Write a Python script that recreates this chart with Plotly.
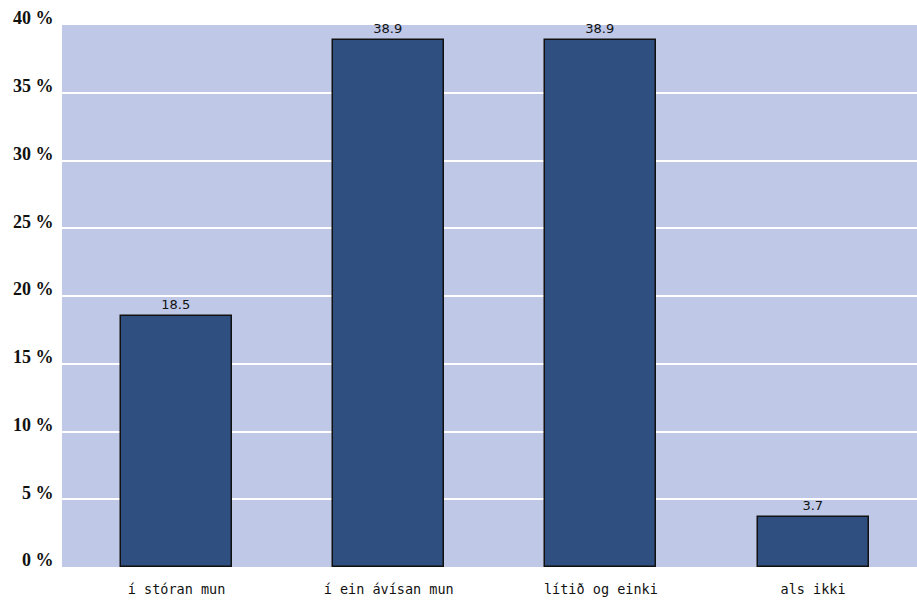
import plotly.graph_objects as go

categories = ["í stóran mun", "í ein ávísan mun", "lítið og einki", "als ikki"]
values = [18.5, 38.9, 38.9, 3.7]
value_labels = ["18.5", "38.9", "38.9", "3.7"]
y_ticks = [0, 5, 10, 15, 20, 25, 30, 35, 40]
y_tick_labels = ["0 %", "5 %", "10 %", "15 %", "20 %", "25 %", "30 %", "35 %", "40 %"]

xpos = list(range(len(categories)))

fig = go.Figure()
fig.add_trace(go.Bar(
    x=xpos, y=values, width=0.523,
    marker=dict(color="#2F4F80", line=dict(color="#111111", width=1.5)),
    text=value_labels, textposition="outside",
    textfont=dict(family="DejaVu Sans", size=13, color="#111111"),
    cliponaxis=False,
))

fig.update_layout(
    width=917, height=610,
    margin=dict(l=62, r=0, t=25, b=43),
    paper_bgcolor="white",
    plot_bgcolor="#BFC8E6",
    showlegend=False,
    bargap=0,
    xaxis=dict(
        range=[-0.54, 3.49],
        tickvals=xpos, ticktext=categories,
        showgrid=False, zeroline=False,
        ticks="outside", ticklen=10, tickcolor="rgba(0,0,0,0)",
        tickfont=dict(family="DejaVu Sans Mono", size=13.5, color="#111111"),
    ),
    yaxis=dict(
        range=[0, 40],
        tickvals=y_ticks, ticktext=y_tick_labels,
        showgrid=True, gridcolor="white", gridwidth=1.5,
        zeroline=False,
        ticks="outside", ticklen=4, tickcolor="rgba(0,0,0,0)",
        ticklabelshift=-7,
        tickfont=dict(family="Liberation Serif", size=18, color="#111111", weight="bold"),
    ),
)

fig.write_html(
    "out.html",
    config={"displayModeBar": False},
    post_script="document.body.style.margin='0';document.body.style.overflow='hidden';",
)
